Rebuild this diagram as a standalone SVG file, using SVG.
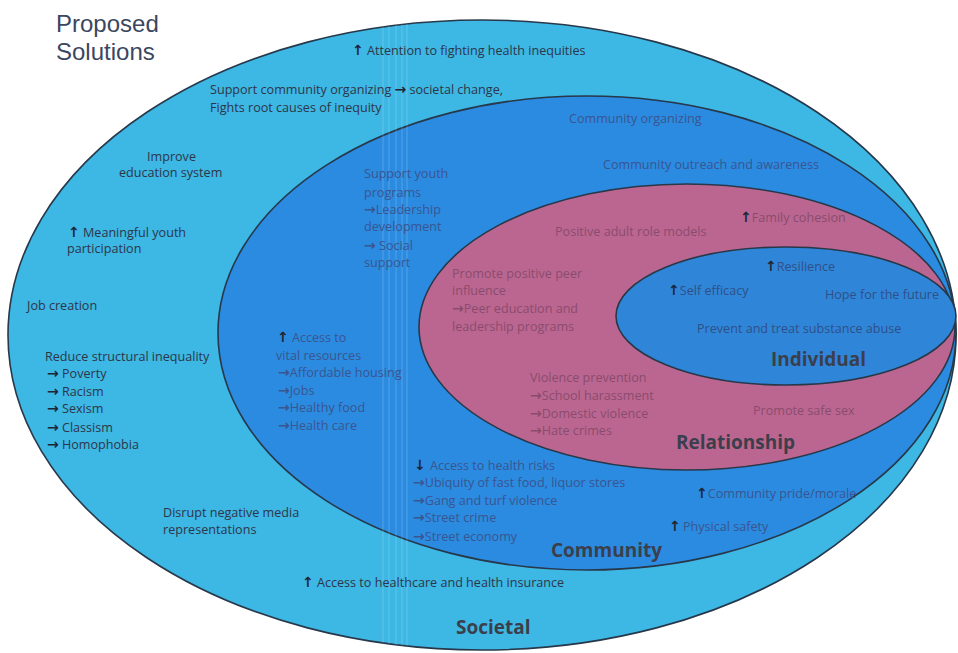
<svg xmlns="http://www.w3.org/2000/svg" width="958" height="653" viewBox="0 0 958 653">
<style>
.ring{stroke:#27384a;stroke-width:1.6}
text{font-family:"Open Sans","Liberation Sans",sans-serif;font-size:12.6px}
.t{fill:#2d3648}
.tc{fill:#3a5590}
.tp{fill:#8a4c6e}
.ti{fill:#2f4f88}
.ar{font-family:"DejaVu Sans",sans-serif;font-weight:bold;font-size:14px}
.t .ar,.ar.k{fill:#1f2533}
.lbl{font-weight:bold;font-size:19px;fill:#3b3f4c}
.title{font-family:"Liberation Sans","Arial",sans-serif;font-size:24px;fill:#3b4660}
.scan{stroke:#ffffff;stroke-width:1.2;opacity:0.16}
</style>
<defs>
<clipPath id="outerClip"><ellipse cx="482" cy="335" rx="474" ry="315"/></clipPath>
</defs>
<rect width="958" height="653" fill="#ffffff"/>
<text class="title" x="56" y="32">Proposed</text>
<text class="title" x="56" y="60">Solutions</text>

<g id="societal">
<ellipse class="ring" cx="482" cy="335" rx="474" ry="315" fill="#3db7e4"/>
</g>
<g id="community">
<ellipse class="ring" cx="587" cy="333" rx="369" ry="237" fill="#2b8be0"/>
</g>
<g id="relationship">
<ellipse class="ring" cx="687" cy="327" rx="268" ry="143" fill="#bb6690"/>
</g>
<g id="individual">
<ellipse class="ring" cx="786" cy="316" rx="170" ry="69" fill="#2f86d8"/>
</g>
<g clip-path="url(#outerClip)">
<line class="scan" x1="383" y1="20" x2="383" y2="650"/>
<line class="scan" x1="389" y1="20" x2="389" y2="650"/>
<line class="scan" x1="396" y1="20" x2="396" y2="650"/>
<line class="scan" x1="402" y1="20" x2="402" y2="650"/>
<line class="scan" x1="407" y1="20" x2="407" y2="650"/>
</g>

<g id="societal-text" class="t">
<text class="t" x="352" y="55"><tspan class="ar">↑</tspan><tspan x="367">Attention to fighting health inequities</tspan></text>
<text class="t" x="210" y="94">Support community organizing <tspan class="ar">→</tspan> societal change,</text>
<text class="t" x="210" y="112">Fights root causes of inequity</text>
<text class="t" x="147" y="161">Improve</text>
<text class="t" x="119" y="177">education system</text>
<text class="t" x="68" y="237"><tspan class="ar">↑</tspan><tspan x="83">Meaningful youth</tspan></text>
<text class="t" x="67" y="253">participation</text>
<text class="t" x="27" y="310">Job creation</text>
<text class="t" x="45" y="361">Reduce  structural inequality</text>
<text class="t" x="47" y="378"><tspan class="ar">→</tspan> Poverty</text>
<text class="t" x="47" y="396"><tspan class="ar">→</tspan> Racism</text>
<text class="t" x="47" y="413"><tspan class="ar">→</tspan> Sexism</text>
<text class="t" x="47" y="432"><tspan class="ar">→</tspan> Classism</text>
<text class="t" x="47" y="449"><tspan class="ar">→</tspan> Homophobia</text>
<text class="t" x="163" y="517">Disrupt negative media</text>
<text class="t" x="163" y="534">representations</text>
<text class="t" x="302" y="587"><tspan class="ar">↑</tspan><tspan x="317">Access to healthcare and health insurance</tspan></text>
<text class="lbl" x="456" y="634">Societal</text>
</g>

<g id="community-text">
<text class="tc" x="569" y="123">Community organizing</text>
<text class="tc" x="603" y="169">Community outreach and awareness</text>
<text class="tc" x="364" y="178">Support youth</text>
<text class="tc" x="364" y="197">programs</text>
<text class="tc" x="364" y="214"><tspan class="ar">→</tspan>Leadership</text>
<text class="tc" x="364" y="231">development</text>
<text class="tc" x="364" y="250"><tspan class="ar">→</tspan> Social</text>
<text class="tc" x="364" y="267">support</text>
<text class="tc" x="277" y="342"><tspan class="ar k">↑</tspan><tspan x="292">Access to</tspan></text>
<text class="tc" x="276" y="360">vital resources</text>
<text class="tc" x="278" y="377"><tspan class="ar">→</tspan>Affordable housing</text>
<text class="tc" x="278" y="395"><tspan class="ar">→</tspan>Jobs</text>
<text class="tc" x="278" y="412"><tspan class="ar">→</tspan>Healthy food</text>
<text class="tc" x="278" y="430"><tspan class="ar">→</tspan>Health care</text>
<text class="tc" x="414" y="470"><tspan class="ar k">↓</tspan><tspan x="430">Access to health risks</tspan></text>
<text class="tc" x="413" y="487"><tspan class="ar">→</tspan>Ubiquity of fast food, liquor stores</text>
<text class="tc" x="413" y="505"><tspan class="ar">→</tspan>Gang and turf violence</text>
<text class="tc" x="413" y="522"><tspan class="ar">→</tspan>Street crime</text>
<text class="tc" x="413" y="541"><tspan class="ar">→</tspan>Street economy</text>
<text class="tc" x="696" y="498"><tspan class="ar k">↑</tspan>Community pride/morale</text>
<text class="tc" x="669" y="531"><tspan class="ar k">↑</tspan><tspan x="683">Physical safety</tspan></text>
<text class="lbl" x="551" y="557">Community</text>
</g>

<g id="relationship-text">
<text class="tp" x="555" y="236">Positive adult role models</text>
<text class="tp" x="740" y="222"><tspan class="ar k">↑</tspan>Family cohesion</text>
<text class="tp" x="452" y="278">Promote positive peer</text>
<text class="tp" x="452" y="295">influence</text>
<text class="tp" x="452" y="313"><tspan class="ar">→</tspan>Peer education and</text>
<text class="tp" x="452" y="331">leadership programs</text>
<text class="tp" x="530" y="382">Violence prevention</text>
<text class="tp" x="530" y="400"><tspan class="ar">→</tspan>School harassment</text>
<text class="tp" x="530" y="418"><tspan class="ar">→</tspan>Domestic violence</text>
<text class="tp" x="530" y="435"><tspan class="ar">→</tspan>Hate crimes</text>
<text class="tp" x="753" y="415">Promote safe sex</text>
<text class="lbl" x="676" y="449">Relationship</text>
</g>

<g id="individual-text">
<text class="ti" x="765" y="271"><tspan class="ar k">↑</tspan>Resilience</text>
<text class="ti" x="668" y="295"><tspan class="ar k">↑</tspan>Self efficacy</text>
<text class="ti" x="825" y="299">Hope for the future</text>
<text class="ti" x="697" y="333">Prevent and treat substance abuse</text>
<text class="lbl" x="771" y="366">Individual</text>
</g>
</svg>
